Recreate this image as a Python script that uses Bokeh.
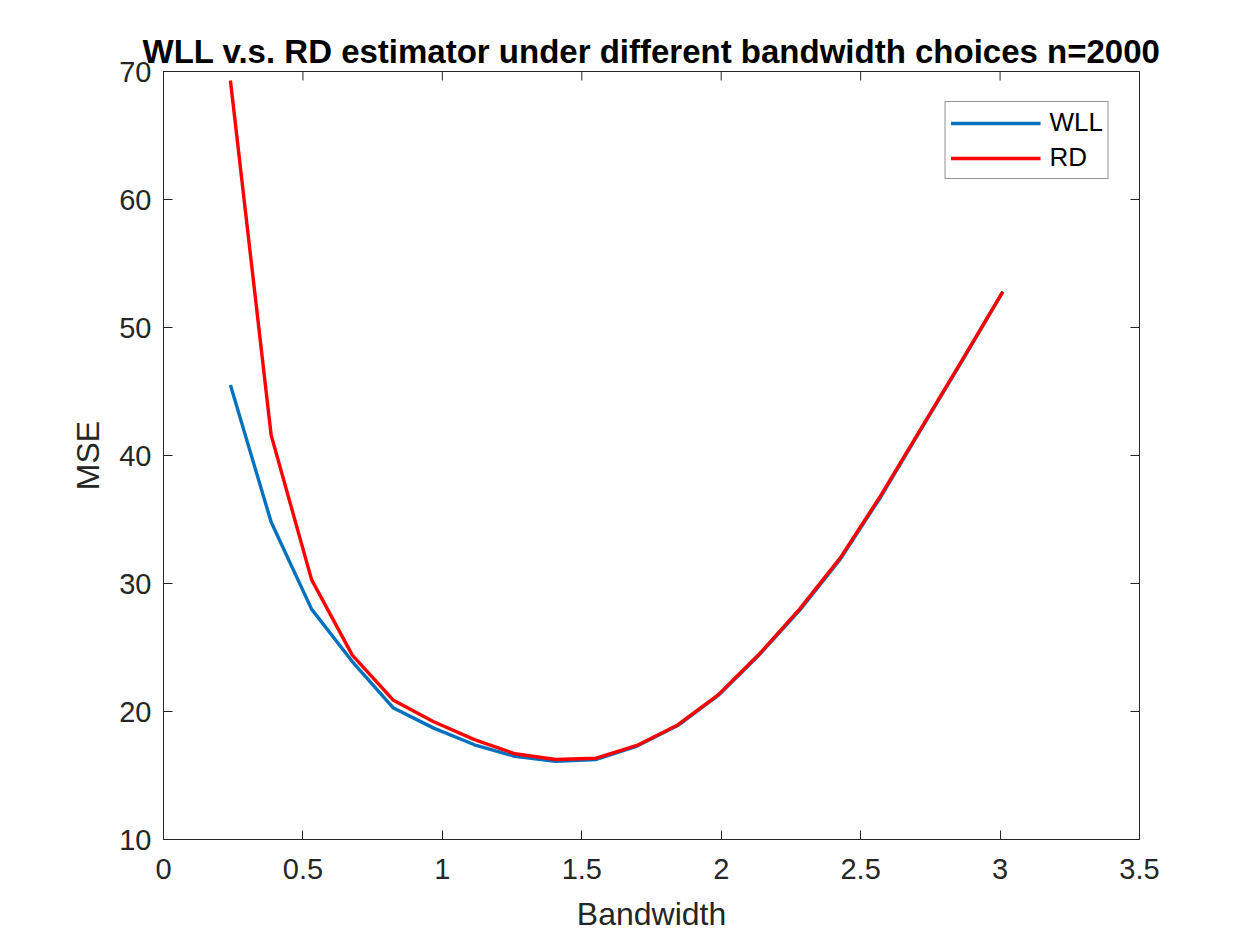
import math
from bokeh.plotting import figure
from bokeh.models import FixedTicker, Range1d, Legend, LegendItem
from bokeh.embed import file_html
from bokeh.resources import INLINE

bandwidth = [0.240, 0.386, 0.531, 0.677, 0.823, 0.969, 1.115, 1.260, 1.406, 1.552,
             1.698, 1.844, 1.989, 2.135, 2.281, 2.427, 2.573, 2.718, 2.864, 3.010]
mse_wll = [45.5, 34.8, 28.0, 23.9, 20.3, 18.7, 17.4, 16.5, 16.1, 16.25,
           17.3, 18.9, 21.25, 24.4, 27.9, 31.9, 36.8, 42.1, 47.4, 52.8]
mse_rd = [69.3, 41.6, 30.3, 24.4, 20.9, 19.2, 17.8, 16.7, 16.25, 16.35,
          17.35, 18.95, 21.3, 24.45, 28.0, 32.0, 36.9, 42.15, 47.45, 52.8]
x_ticks = [0, 0.5, 1, 1.5, 2, 2.5, 3, 3.5]
y_ticks = [10, 20, 30, 40, 50, 60, 70]
title_text = "WLL v.s. RD estimator under different bandwidth choices n=2000"

FONT = "Liberation Sans"
TXT = "#262626"
X0, X1, Y0, Y1 = 0, 3.5, 10, 70

W, H = 1240, 937
p = figure(width=W, height=H, output_backend="svg", toolbar_location=None,
           x_range=Range1d(X0, X1), y_range=Range1d(Y0, Y1),
           min_border_left=163, min_border_right=W - 1139, min_border_top=71,
           min_border_bottom=H - 839,
           x_axis_label="Bandwidth", y_axis_label="MSE")
p.title.text = title_text
p.title.align = "center"
p.title.text_font = FONT
p.title.text_font_size = "33px"
p.title.text_font_style = "bold"
p.title.text_color = "black"
p.title.offset = 0
p.title.standoff = 3

p.grid.visible = False
p.outline_line_color = "#262626"
p.outline_line_width = 1
p.background_fill_color = "white"
p.border_fill_color = "white"

def style_axis(ax, ticks):
    ax.ticker = FixedTicker(ticks=ticks)
    ax.major_tick_in = 9
    ax.major_tick_out = 0
    ax.minor_tick_line_color = None
    ax.axis_line_color = "#262626"
    ax.major_tick_line_color = "#262626"
    ax.major_label_text_font = FONT
    ax.major_label_text_font_size = "29px"
    ax.major_label_text_color = TXT
    ax.axis_label_text_font = FONT
    ax.axis_label_text_font_size = "32px"
    ax.axis_label_text_font_style = "normal"
    ax.axis_label_text_color = TXT

style_axis(p.xaxis[0], x_ticks)
style_axis(p.yaxis[0], y_ticks)
p.xaxis[0].major_label_standoff = 19
p.yaxis[0].major_label_standoff = 12
p.xaxis[0].axis_label_standoff = 14
p.yaxis[0].axis_label_standoff = 10

# box ticks on the top and right edges (MATLAB style, pointing inward)
p.ray(x=x_ticks, y=[Y1] * len(x_ticks), length=9, length_units="screen",
      angle=-math.pi / 2, line_color="#262626", line_width=1)
p.ray(x=[X1] * len(y_ticks), y=y_ticks, length=9, length_units="screen",
      angle=math.pi, line_color="#262626", line_width=1)

r_wll = p.line(bandwidth, mse_wll, line_color="#0072BD", line_width=3.4)
r_rd = p.line(bandwidth, mse_rd, line_color="#FF0000", line_width=3.4)

legend = Legend(items=[LegendItem(label="WLL", renderers=[r_wll]),
                       LegendItem(label="RD", renderers=[r_rd])],
                location="top_right")
legend.margin = 30
legend.padding = 5
legend.spacing = 4
legend.glyph_width = 90
legend.glyph_height = 28
legend.label_height = 28
legend.label_standoff = 9
legend.label_text_font = FONT
legend.label_text_font_size = "26px"
legend.label_text_color = "black"
legend.border_line_color = "#262626"
legend.border_line_width = 1
legend.background_fill_alpha = 1
p.add_layout(legend, "center")

open("out.html", "w").write(file_html(p, INLINE))
